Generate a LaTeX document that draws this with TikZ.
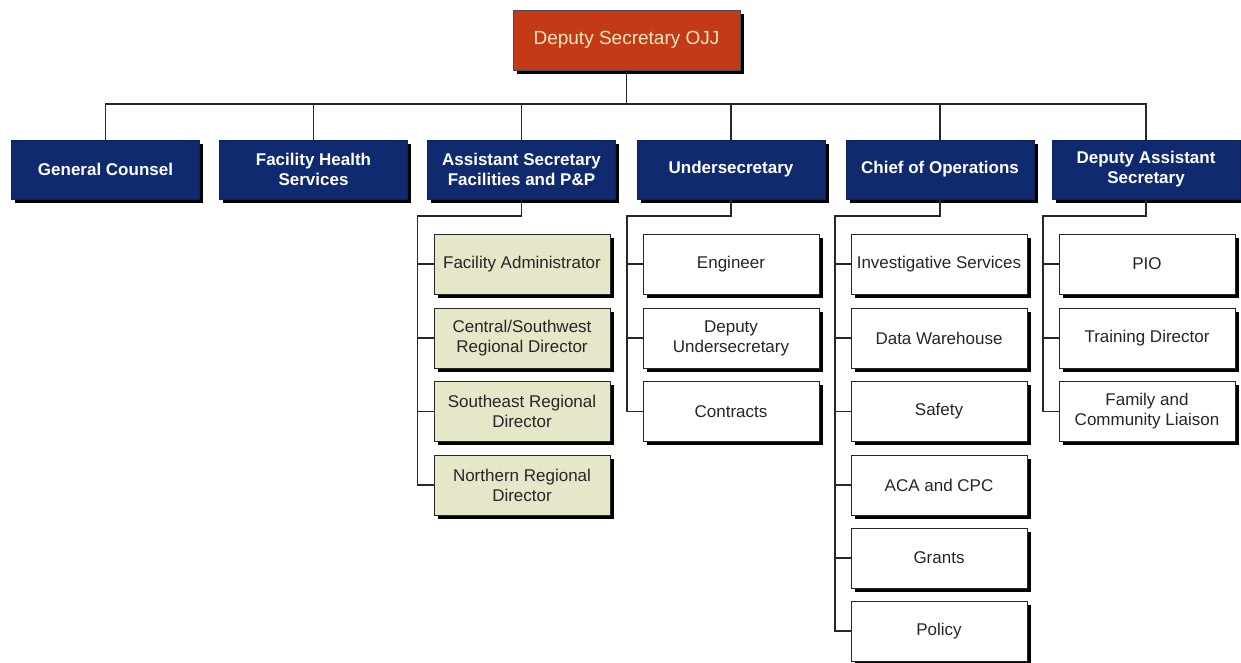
\documentclass[tikz,border=0pt]{standalone}
\usepackage{fontspec}
\setmainfont{Liberation Sans}
\usetikzlibrary{shadows}
\definecolor{ojjred}{RGB}{196,58,24}
\definecolor{ojjtext}{RGB}{250,232,190}
\definecolor{ojjblue}{RGB}{16,42,112}
\definecolor{ojjkhaki}{RGB}{230,230,200}
\definecolor{ojjline}{RGB}{40,40,40}
\tikzset{
  shad/.style={drop shadow={shadow xshift=3.5pt,shadow yshift=-3.5pt,fill=black,opacity=1}},
  topbox/.style={shad,fill=ojjred,draw=black!70,line width=0.6pt,minimum width=227pt,minimum height=60pt,inner sep=0pt,text=ojjtext,font=\fontsize{19}{22}\selectfont},
  lvlone/.style={shad,fill=ojjblue,draw=ojjblue!80!black,line width=0.6pt,minimum width=188pt,minimum height=59pt,inner sep=0pt,text=white,align=center,font=\fontsize{17}{20}\selectfont\bfseries},
  child/.style={shad,fill=white,draw=ojjline,line width=0.8pt,minimum width=176pt,minimum height=60pt,inner sep=0pt,text=black!85,align=center,font=\fontsize{17}{20}\selectfont},
  khaki/.style={child,fill=ojjkhaki},
  conn/.style={draw=ojjline,line width=1.2pt},
}
\begin{document}
\begin{tikzpicture}[x=1pt,y=-1pt]
\useasboundingbox (0,0) rectangle (1241,662);
\fill[white] (0,0) rectangle (1241,662);
% top
\node[topbox] (top) at (626.5,40) {Deputy Secretary OJJ};
% level one
\node[lvlone] (gc) at (105.5,169.5) {General Counsel};
\node[lvlone] (fhs) at (313.5,169.5) {Facility Health\\Services};
\node[lvlone] (as) at (521.5,169.5) {Assistant Secretary\\Facilities and P\&P};
\node[lvlone] (us) at (731,169.5) {Undersecretary};
\node[lvlone] (co) at (940,169.5) {Chief of Operations};
\node[lvlone] (das) at (1146,169.5) {Deputy Assistant\\Secretary};
\coordinate (bar) at (626.5,104);
\foreach \n in {gc,fhs,as,us,co,das}{
  \draw[conn] (top.south) -- (top.south |- bar) -| (\n.north);
}
% Assistant Secretary children
\node[khaki] (fa) at (522,264) {Facility Administrator};
\node[khaki] (csw) at (522,338) {Central/Southwest\\Regional Director};
\node[khaki] (se) at (522,411.5) {Southeast Regional\\Director};
\node[khaki] (nr) at (522,485) {Northern Regional\\Director};
\coordinate (asv) at (417.5,216);
\foreach \n in {fa,csw,se,nr}{
  \draw[conn] (as.south) |- (asv) |- (\n.west);
}
% Undersecretary children
\node[child] (eng) at (731,264) {Engineer};
\node[child] (dus) at (731,338) {Deputy\\Undersecretary};
\node[child] (con) at (731,411.5) {Contracts};
\coordinate (usv) at (627,216);
\foreach \n in {eng,dus,con}{
  \draw[conn] (us.south) |- (usv) |- (\n.west);
}
% Chief of Operations children
\node[child] (inv) at (939,264) {Investigative Services};
\node[child] (dw) at (939,338) {Data Warehouse};
\node[child] (saf) at (939,411.5) {Safety};
\node[child] (aca) at (939,485) {ACA and CPC};
\node[child] (gr) at (939,558) {Grants};
\node[child] (pol) at (939,631) {Policy};
\coordinate (cov) at (835,216);
\foreach \n in {inv,dw,saf,aca,gr,pol}{
  \draw[conn] (co.south) |- (cov) |- (\n.west);
}
% Deputy Assistant Secretary children
\node[child] (pio) at (1147,264) {PIO};
\node[child] (td) at (1147,338) {Training Director};
\node[child] (fcl) at (1147,411.5) {Family and\\Community Liaison};
\coordinate (dasv) at (1043,216);
\foreach \n in {pio,td,fcl}{
  \draw[conn] (das.south) |- (dasv) |- (\n.west);
}
\end{tikzpicture}
\end{document}
